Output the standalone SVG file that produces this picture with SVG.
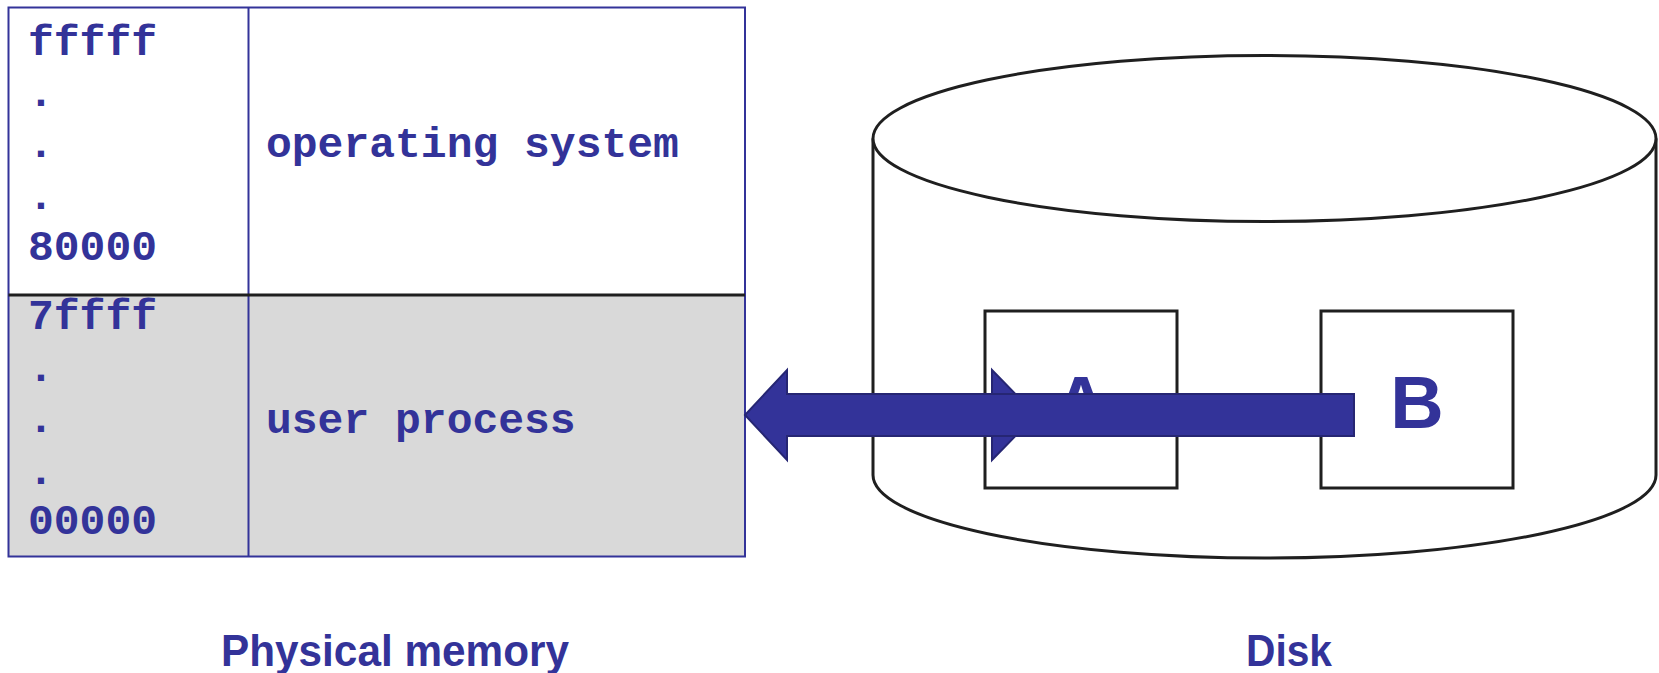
<svg xmlns="http://www.w3.org/2000/svg" width="1659" height="673" viewBox="0 0 1659 673">
  <style>
    .mono { font-family: "Liberation Mono", "Courier New", monospace; font-weight: bold; font-size: 43px; fill: #333399; }
    .label { font-family: "Liberation Sans", Arial, sans-serif; font-weight: bold; font-size: 44px; fill: #333399; }
    .letter { font-family: "Liberation Sans", Arial, sans-serif; font-weight: bold; font-size: 74px; fill: #333399; text-anchor: middle; }
    .blueline { stroke: #333399; stroke-width: 2; fill: none; }
    .disk { stroke: #1f1f1f; stroke-width: 3; fill: #ffffff; }
    .block { stroke: #1f1f1f; stroke-width: 3; fill: #ffffff; }
    .arrow { fill: #333399; stroke: #262673; stroke-width: 2; }
  </style>

  <rect width="1659" height="673" fill="#ffffff"/>

  <!-- Physical memory table -->
  <g id="memory">
    <rect x="8.5" y="7.5" width="736.5" height="287.5" fill="#ffffff"/>
    <rect x="8.5" y="295" width="736.5" height="261.5" fill="#d9d9d9"/>
    <rect x="8.5" y="7.5" width="736.5" height="549" class="blueline"/>
    <line x1="248.5" y1="7.5" x2="248.5" y2="556.5" class="blueline"/>
    <line x1="8.5" y1="295" x2="745" y2="295" stroke="#1f1f1f" stroke-width="3"/>
  </g>

  <g id="os-region">
    <text class="mono" x="28" y="55">fffff</text>
    <text class="mono" x="28" y="106">.</text>
    <text class="mono" x="28" y="157">.</text>
    <text class="mono" x="28" y="209">.</text>
    <text class="mono" x="28" y="260">80000</text>
    <text class="mono" x="266" y="157">operating system</text>
  </g>

  <g id="user-region">
    <text class="mono" x="28" y="329">7ffff</text>
    <text class="mono" x="28" y="381">.</text>
    <text class="mono" x="28" y="432">.</text>
    <text class="mono" x="28" y="484">.</text>
    <text class="mono" x="28" y="534">00000</text>
    <text class="mono" x="266" y="433">user process</text>
  </g>

  <!-- Disk cylinder -->
  <g id="disk">
    <path class="disk" d="M873,138.5 L873,475 A391.5,83 0 0 0 1656,475 L1656,138.5"/>
    <ellipse class="disk" cx="1264.5" cy="138.5" rx="391.5" ry="83"/>
  </g>

  <g id="block-a">
    <rect class="block" x="985" y="311" width="192" height="177"/>
    <text class="letter" x="1081" y="428">A</text>
  </g>

  <g id="block-b">
    <rect class="block" x="1321" y="311" width="192" height="177"/>
    <text class="letter" x="1417" y="428">B</text>
  </g>

  <!-- Transfer arrow from disk to memory -->
  <g id="connectors">
    <polygon class="arrow" points="992,370 992,460 1036,415"/>
    <polygon class="arrow" points="1354,394 787,394 787,370 745,415 787,460 787,436 1354,436"/>
  </g>

  <g id="captions">
    <text class="label" x="221" y="666" textLength="348" lengthAdjust="spacingAndGlyphs">Physical memory</text>
    <text class="label" x="1246" y="666" textLength="86" lengthAdjust="spacingAndGlyphs">Disk</text>
  </g>
</svg>
